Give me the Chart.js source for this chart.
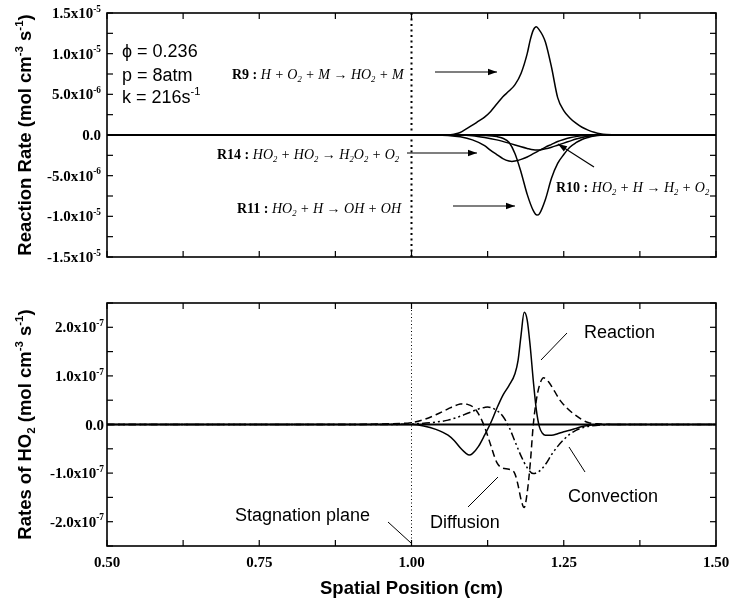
<!DOCTYPE html>
<html><head><meta charset="utf-8">
<script src="https://cdn.jsdelivr.net/npm/chart.js@4.4.1/dist/chart.umd.min.js"></script>
<style>
html,body{margin:0;padding:0;background:#fff;}
#wrap{position:relative;width:730px;height:603px;background:#fff;}
canvas{position:absolute;left:0;top:0;}
</style></head><body>
<div id="wrap"><canvas id="c1" width="730" height="603"></canvas><canvas id="c2" width="730" height="603"></canvas></div>
<script>
// ---------------- DATA (top panel: reaction rates, mol cm^-3 s^-1) ----------------
const r9X  = [0.50, 1.00, 1.06, 1.07, 1.08, 1.09, 1.10, 1.11, 1.12, 1.13, 1.14, 1.15, 1.16, 1.17, 1.18, 1.19, 1.195, 1.20, 1.205, 1.21, 1.215, 1.22, 1.23, 1.24, 1.25, 1.26, 1.27, 1.28, 1.29, 1.30, 1.31, 1.32, 1.34, 1.50];
const r9Y  = [0, 0, 0, 0.1e-6, 0.3e-6, 0.75e-6, 1.2e-6, 1.7e-6, 2.2e-6, 2.9e-6, 3.8e-6, 4.7e-6, 5.4e-6, 6.2e-6, 7.6e-6, 10.0e-6, 11.7e-6, 12.9e-6, 13.3e-6, 12.9e-6, 12.3e-6, 11.4e-6, 8.3e-6, 4.6e-6, 3.0e-6, 2.1e-6, 1.45e-6, 0.95e-6, 0.6e-6, 0.33e-6, 0.14e-6, 0.05e-6, 0, 0];
const r14X = [0.50, 1.00, 1.04, 1.06, 1.08, 1.10, 1.12, 1.13, 1.14, 1.15, 1.16, 1.165, 1.17, 1.18, 1.19, 1.20, 1.21, 1.22, 1.23, 1.24, 1.25, 1.26, 1.27, 1.28, 1.30, 1.32, 1.50];
const r14Y = [0, 0, 0, -0.05e-6, -0.22e-6, -0.6e-6, -1.3e-6, -1.9e-6, -2.4e-6, -2.9e-6, -3.2e-6, -3.25e-6, -3.2e-6, -3.0e-6, -2.7e-6, -2.3e-6, -1.9e-6, -1.5e-6, -1.15e-6, -0.8e-6, -0.55e-6, -0.35e-6, -0.2e-6, -0.1e-6, -0.02e-6, 0, 0];
const r10X = [0.50, 1.00, 1.08, 1.10, 1.12, 1.14, 1.16, 1.18, 1.19, 1.20, 1.206, 1.21, 1.22, 1.23, 1.24, 1.25, 1.26, 1.27, 1.28, 1.29, 1.30, 1.32, 1.50];
const r10Y = [0, 0, 0, -0.08e-6, -0.3e-6, -0.6e-6, -1.0e-6, -1.45e-6, -1.65e-6, -1.82e-6, -1.85e-6, -1.83e-6, -1.7e-6, -1.5e-6, -1.25e-6, -1.0e-6, -0.75e-6, -0.5e-6, -0.3e-6, -0.15e-6, -0.06e-6, 0, 0];
const r11X = [0.50, 1.00, 1.10, 1.12, 1.14, 1.15, 1.16, 1.17, 1.18, 1.19, 1.20, 1.206, 1.21, 1.22, 1.23, 1.24, 1.25, 1.26, 1.27, 1.28, 1.29, 1.30, 1.31, 1.32, 1.50];
const r11Y = [0, 0, 0, -0.05e-6, -0.2e-6, -0.4e-6, -0.9e-6, -2.3e-6, -4.6e-6, -7.3e-6, -9.3e-6, -9.85e-6, -9.7e-6, -7.9e-6, -5.3e-6, -3.5e-6, -2.4e-6, -1.5e-6, -0.95e-6, -0.55e-6, -0.3e-6, -0.12e-6, -0.03e-6, 0, 0];

// ---------------- DATA (bottom panel: rates of HO2) ----------------
const reacX = [0.50, 1.00, 1.02, 1.04, 1.06, 1.07, 1.08, 1.09, 1.095, 1.10, 1.11, 1.12, 1.13, 1.14, 1.15, 1.16, 1.17, 1.175, 1.18, 1.185, 1.19, 1.195, 1.20, 1.205, 1.21, 1.215, 1.22, 1.23, 1.24, 1.25, 1.26, 1.27, 1.28, 1.29, 1.31, 1.50];
const reacY = [0, 0, -0.03e-7, -0.1e-7, -0.22e-7, -0.33e-7, -0.48e-7, -0.6e-7, -0.63e-7, -0.6e-7, -0.45e-7, -0.22e-7, 0.03e-7, 0.33e-7, 0.6e-7, 0.8e-7, 1.05e-7, 1.32e-7, 1.85e-7, 2.31e-7, 2.15e-7, 1.6e-7, 0.9e-7, 0.3e-7, -0.05e-7, -0.18e-7, -0.22e-7, -0.22e-7, -0.19e-7, -0.15e-7, -0.12e-7, -0.08e-7, -0.04e-7, -0.02e-7, 0, 0];
const diffX = [0.50, 0.90, 0.95, 1.00, 1.02, 1.04, 1.06, 1.07, 1.08, 1.085, 1.09, 1.10, 1.11, 1.12, 1.13, 1.14, 1.15, 1.16, 1.17, 1.175, 1.18, 1.185, 1.19, 1.195, 1.20, 1.205, 1.21, 1.217, 1.225, 1.235, 1.245, 1.255, 1.265, 1.28, 1.29, 1.31, 1.33, 1.50];
const diffY = [0, 0, 0.01e-7, 0.04e-7, 0.1e-7, 0.2e-7, 0.32e-7, 0.38e-7, 0.42e-7, 0.43e-7, 0.42e-7, 0.37e-7, 0.22e-7, -0.05e-7, -0.42e-7, -0.78e-7, -0.9e-7, -0.92e-7, -1.02e-7, -1.25e-7, -1.55e-7, -1.71e-7, -1.4e-7, -0.8e-7, 0.0, 0.5e-7, 0.8e-7, 0.96e-7, 0.88e-7, 0.68e-7, 0.48e-7, 0.34e-7, 0.23e-7, 0.1e-7, 0.04e-7, 0.01e-7, 0, 0];
const convX = [0.50, 0.95, 1.00, 1.04, 1.06, 1.08, 1.09, 1.10, 1.11, 1.12, 1.125, 1.13, 1.14, 1.15, 1.16, 1.17, 1.18, 1.19, 1.20, 1.21, 1.22, 1.23, 1.24, 1.25, 1.26, 1.27, 1.28, 1.29, 1.31, 1.33, 1.50];
const convY = [0, 0, 0.01e-7, 0.05e-7, 0.09e-7, 0.17e-7, 0.22e-7, 0.27e-7, 0.32e-7, 0.35e-7, 0.36e-7, 0.35e-7, 0.29e-7, 0.17e-7, -0.05e-7, -0.35e-7, -0.65e-7, -0.89e-7, -1.01e-7, -0.96e-7, -0.82e-7, -0.62e-7, -0.45e-7, -0.31e-7, -0.2e-7, -0.12e-7, -0.07e-7, -0.04e-7, -0.01e-7, 0, 0];

// ---------------- TICKS ----------------
const xTickVals   = [0.50, 0.75, 1.00, 1.25, 1.50];
const xTickLabels = ['0.50', '0.75', '1.00', '1.25', '1.50'];
const xMinorVals  = [0.50, 0.625, 0.75, 0.875, 1.00, 1.125, 1.25, 1.375, 1.50];
const topTickVals = [1.5e-5, 1.0e-5, 5.0e-6, 0, -5.0e-6, -1.0e-5, -1.5e-5];
const topTickMant = ['1.5', '1.0', '5.0', '0.0', '-5.0', '-1.0', '-1.5'];
const topTickExp  = ['-5', '-5', '-6', '', '-6', '-5', '-5'];
const topMinorVals = [1.5e-5, 1.25e-5, 1.0e-5, 7.5e-6, 5.0e-6, 2.5e-6, 0, -2.5e-6, -5.0e-6, -7.5e-6, -1.0e-5, -1.25e-5, -1.5e-5];
const botTickVals = [2.0e-7, 1.0e-7, 0, -1.0e-7, -2.0e-7];
const botTickMant = ['2.0', '1.0', '0.0', '-1.0', '-2.0'];
const botTickExp  = ['-7', '-7', '', '-7', '-7'];
const botMinorVals = [2.5e-7, 2.0e-7, 1.5e-7, 1.0e-7, 0.5e-7, 0, -0.5e-7, -1.0e-7, -1.5e-7, -2.0e-7, -2.5e-7];

// ---------------- helpers ----------------
const SERIF = '"Liberation Serif", "Times New Roman", serif';
const SANS  = '"Liberation Sans", Arial, "DejaVu Sans", sans-serif';
const pts = (xs, ys) => xs.map((x, i) => ({x: x, y: ys[i]}));

function layoutRich(ctx, parts, size, fam) {
  let w = 0; const out = [];
  for (const p of parts) {
    const t = p[0], st = p[1] || '', sh = p[2] || '';
    const s = sh ? size * 0.62 : size;
    const f = st + ' ' + s + 'px ' + fam;
    ctx.font = f;
    const dy = sh === 'sup' ? -size * 0.42 : (sh === 'sub' ? size * 0.24 : 0);
    out.push({t: t, f: f, dx: w, dy: dy});
    w += ctx.measureText(t).width;
  }
  return {out: out, w: w};
}
function drawRich(ctx, parts, x, y, size, fam, align) {
  const L = layoutRich(ctx, parts, size, fam);
  const x0 = align === 'center' ? x - L.w / 2 : (align === 'right' ? x - L.w : x);
  ctx.textAlign = 'left'; ctx.textBaseline = 'alphabetic'; ctx.fillStyle = '#000';
  for (const o of L.out) { ctx.font = o.f; ctx.fillText(o.t, x0 + o.dx, y + o.dy); }
}
function seg(ctx, x1, y1, x2, y2) { ctx.beginPath(); ctx.moveTo(x1, y1); ctx.lineTo(x2, y2); ctx.stroke(); }
function arrow(ctx, x1, y1, x2, y2) {
  ctx.lineWidth = 1.2; seg(ctx, x1, y1, x2, y2);
  const a = Math.atan2(y2 - y1, x2 - x1), L = 9, W = 3.2;
  ctx.beginPath();
  ctx.moveTo(x2, y2);
  ctx.lineTo(x2 - L * Math.cos(a) + W * Math.sin(a), y2 - L * Math.sin(a) - W * Math.cos(a));
  ctx.lineTo(x2 - L * Math.cos(a) - W * Math.sin(a), y2 - L * Math.sin(a) + W * Math.cos(a));
  ctx.closePath(); ctx.fill();
}

const framePlugin = {
  id: 'frame',
  beforeDatasetsDraw(chart, args, o) {
    const ctx = chart.ctx, a = chart.chartArea, xs = chart.scales.x, ys = chart.scales.y;
    ctx.save();
    ctx.strokeStyle = '#000';
    // zero line
    ctx.lineWidth = 2;
    const y0 = ys.getPixelForValue(0);
    seg(ctx, a.left, y0, a.right, y0);
    // stagnation plane (dotted)
    ctx.lineWidth = o.dotW; ctx.setLineDash(o.dot);
    const xd = xs.getPixelForValue(1.0);
    seg(ctx, xd, a.top, xd, a.bottom);
    ctx.restore();
  },
  afterDatasetsDraw(chart, args, o) {
    const ctx = chart.ctx, a = chart.chartArea, xs = chart.scales.x, ys = chart.scales.y;
    ctx.save();
    ctx.strokeStyle = '#000'; ctx.fillStyle = '#000';
    // border
    ctx.lineWidth = 1.6;
    ctx.strokeRect(a.left, a.top, a.right - a.left, a.bottom - a.top);
    // inward ticks
    ctx.lineWidth = 1.2;
    const T = 6;
    for (const v of xMinorVals) {
      const px = xs.getPixelForValue(v);
      seg(ctx, px, a.bottom, px, a.bottom - T);
      if (o.topTicks) seg(ctx, px, a.top, px, a.top + T);
    }
    for (const v of o.yMinor) {
      const py = ys.getPixelForValue(v);
      seg(ctx, a.left, py, a.left + T, py);
      seg(ctx, a.right, py, a.right - T, py);
    }
    // y tick labels
    o.yVals.forEach((v, i) => {
      const py = ys.getPixelForValue(v);
      const parts = o.yExp[i] ? [[o.yMant[i] + 'x10', 'bold'], [o.yExp[i], 'bold', 'sup']] : [[o.yMant[i], 'bold']];
      drawRich(ctx, parts, o.yLabelRight, py + 5, 15, SERIF, 'right');
    });
    // x tick labels
    if (o.xLabels) {
      xTickVals.forEach((v, i) => {
        drawRich(ctx, [[xTickLabels[i], 'bold']], xs.getPixelForValue(v), a.bottom + 21, 15, SERIF, 'center');
      });
      drawRich(ctx, [['Spatial Position (cm)', 'bold']], (a.left + a.right) / 2, 594, 18.5, SANS, 'center');
    }
    // y title (rotated)
    ctx.save();
    ctx.translate(31, (a.top + a.bottom) / 2);
    ctx.rotate(-Math.PI / 2);
    drawRich(ctx, o.yTitle, 0, 0, 18.5, SANS, 'center');
    ctx.restore();
    // annotations
    if (o.draw) o.draw(ctx, a);
    ctx.restore();
  }
};

function baseOptions(pad, frame) {
  return {
    responsive: false, animation: false, devicePixelRatio: 1,
    layout: {padding: pad},
    plugins: {legend: {display: false}, tooltip: {enabled: false}, frame: frame},
    elements: {point: {radius: 0}, line: {borderWidth: 1.5, borderColor: '#000', cubicInterpolationMode: 'monotone', fill: false}},
    scales: {
      x: {type: 'linear', min: 0.5, max: 1.5, display: false},
      y: {type: 'linear', display: false}
    }
  };
}

// ---------------- TOP CHART ----------------
const opt1 = baseOptions({left: 107, top: 13, right: 14, bottom: 346}, {
  dot: [2, 3.5], dotW: 2, topTicks: true,
  yMinor: topMinorVals, yVals: topTickVals, yMant: topTickMant, yExp: topTickExp, yLabelRight: 101,
  xLabels: false,
  yTitle: [['Reaction Rate (mol cm', 'bold'], ['-3', 'bold', 'sup'], [' s', 'bold'], ['-1', 'bold', 'sup'], [')', 'bold']],
  draw(ctx) {
    drawRich(ctx, [['ϕ = 0.236', '']], 122, 57, 18, SANS, 'left');
    drawRich(ctx, [['p = 8atm', '']], 122, 81, 18, SANS, 'left');
    drawRich(ctx, [['k = 216s', ''], ['-1', '', 'sup']], 122, 103, 18, SANS, 'left');
    const I = 'italic', B = 'bold';
    drawRich(ctx, [['R9 : ', B], ['H + O', I], ['2', I, 'sub'], [' + M → HO', I], ['2', I, 'sub'], [' + M', I]], 232, 79, 14, SERIF, 'left');
    drawRich(ctx, [['R14 : ', B], ['HO', I], ['2', I, 'sub'], [' + HO', I], ['2', I, 'sub'], [' → H', I], ['2', I, 'sub'], ['O', I], ['2', I, 'sub'], [' + O', I], ['2', I, 'sub']], 217, 159, 14, SERIF, 'left');
    drawRich(ctx, [['R11 : ', B], ['HO', I], ['2', I, 'sub'], [' + H → OH + OH', I]], 237, 213, 14, SERIF, 'left');
    drawRich(ctx, [['R10 : ', B], ['HO', I], ['2', I, 'sub'], [' + H → H', I], ['2', I, 'sub'], [' + O', I], ['2', I, 'sub']], 556, 192, 14, SERIF, 'left');
    arrow(ctx, 435, 72, 497, 72);
    arrow(ctx, 407, 153, 477, 153);
    arrow(ctx, 453, 206, 515, 206);
    arrow(ctx, 594, 167, 558, 144);
  }
});
opt1.scales.y.min = -1.5e-5; opt1.scales.y.max = 1.5e-5;
new Chart(document.getElementById('c1'), {
  type: 'line',
  data: {datasets: [
    {label: 'R9', data: pts(r9X, r9Y)},
    {label: 'R14', data: pts(r14X, r14Y)},
    {label: 'R10', data: pts(r10X, r10Y)},
    {label: 'R11', data: pts(r11X, r11Y)}
  ]},
  options: opt1,
  plugins: [framePlugin]
});

// ---------------- BOTTOM CHART ----------------
const opt2 = baseOptions({left: 107, top: 303, right: 14, bottom: 57}, {
  dot: [1, 2.5], dotW: 1, topTicks: true,
  yMinor: botMinorVals, yVals: botTickVals, yMant: botTickMant, yExp: botTickExp, yLabelRight: 104,
  xLabels: true,
  yTitle: [['Rates of HO', 'bold'], ['2', 'bold', 'sub'], [' (mol cm', 'bold'], ['-3', 'bold', 'sup'], [' s', 'bold'], ['-1', 'bold', 'sup'], [')', 'bold']],
  draw(ctx) {
    drawRich(ctx, [['Reaction', '']], 584, 338, 18, SANS, 'left');
    drawRich(ctx, [['Convection', '']], 568, 502, 18, SANS, 'left');
    drawRich(ctx, [['Diffusion', '']], 430, 528, 18, SANS, 'left');
    drawRich(ctx, [['Stagnation plane', '']], 235, 521, 18, SANS, 'left');
    ctx.lineWidth = 1;
    seg(ctx, 567, 333, 541, 360);
    seg(ctx, 569, 447, 585, 472);
    seg(ctx, 468, 507, 498, 477);
    seg(ctx, 388, 522, 411, 543);
  }
});
opt2.scales.y.min = -2.5e-7; opt2.scales.y.max = 2.5e-7;
new Chart(document.getElementById('c2'), {
  type: 'line',
  data: {datasets: [
    {label: 'Reaction', data: pts(reacX, reacY)},
    {label: 'Diffusion', data: pts(diffX, diffY), borderDash: [7, 4]},
    {label: 'Convection', data: pts(convX, convY), borderDash: [8, 3, 2, 3, 2, 3]}
  ]},
  options: opt2,
  plugins: [framePlugin]
});
</script>
</body></html>
